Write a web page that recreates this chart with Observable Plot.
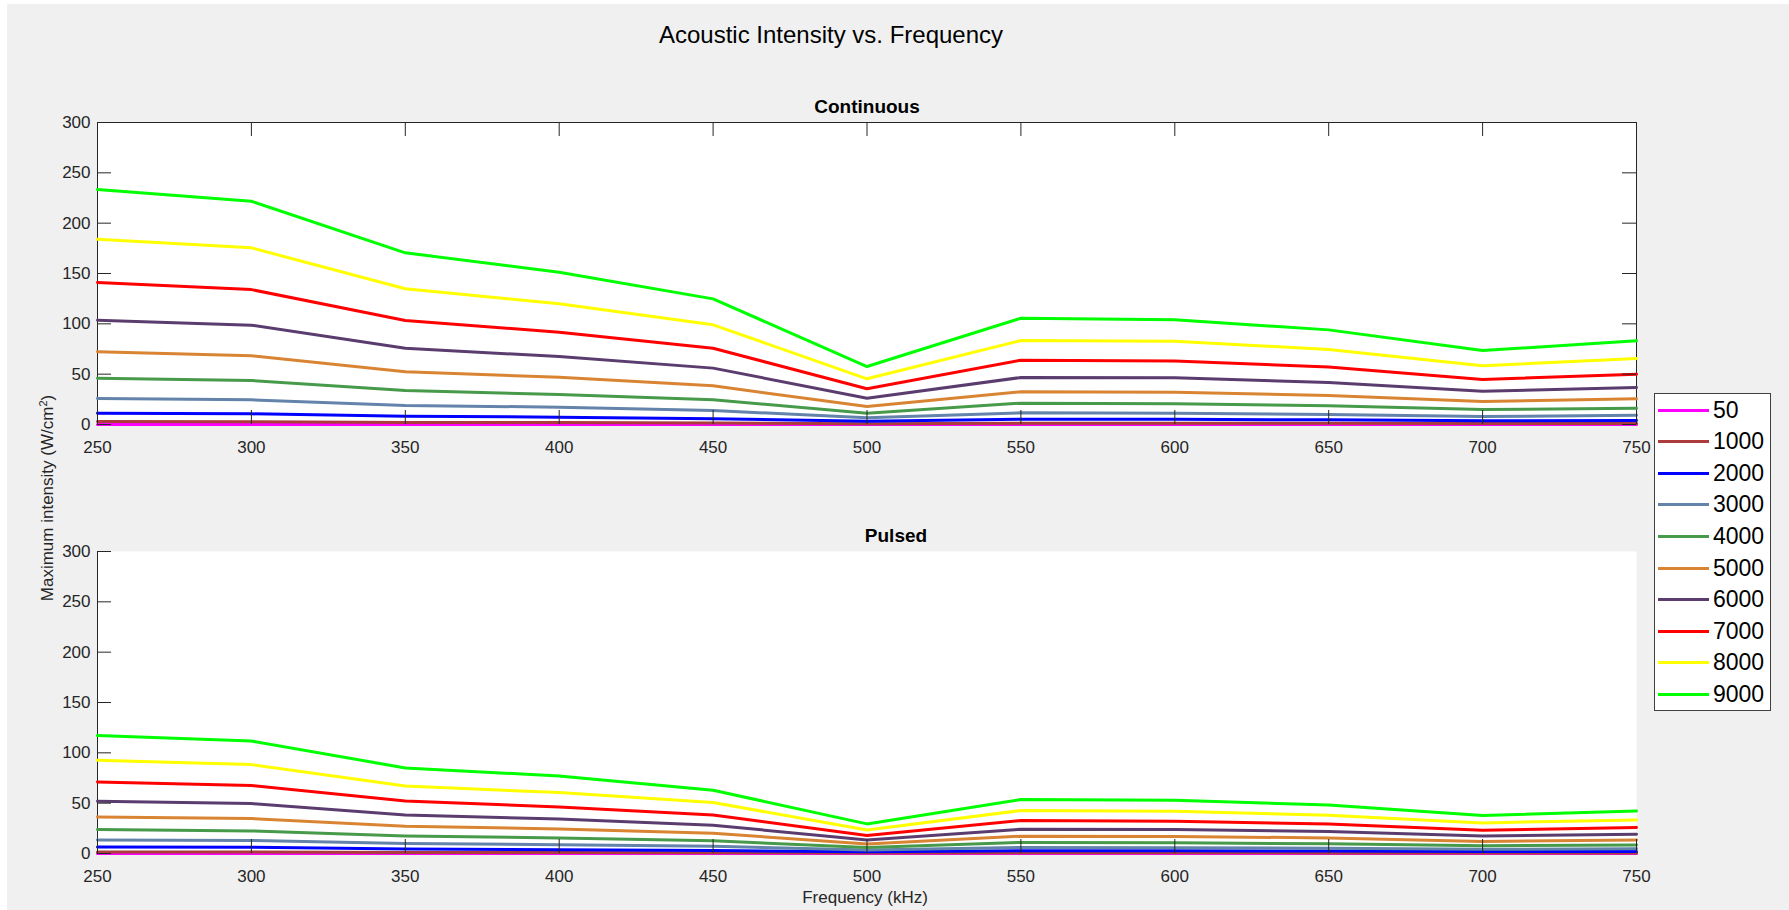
<!DOCTYPE html>
<html>
<head>
<meta charset="utf-8">
<script src="https://cdn.jsdelivr.net/npm/d3@7"></script>
<script src="https://cdn.jsdelivr.net/npm/@observablehq/plot@0.6"></script>
<style>
  html, body { margin: 0; padding: 0; background: #ffffff; }
  #root { position: relative; width: 1789px; height: 910px; overflow: hidden; background: #ffffff;
          font-family: Arial, "Liberation Sans", Helvetica, sans-serif; }
  #bg { position: absolute; left: 7px; top: 4px; right: 0; bottom: 0; background: #f0f0f0; }
  .abs { position: absolute; white-space: nowrap; }
  .center { transform: translate(-50%, -50%); }
  .panel { position: absolute; left: 0; }
  #legend { position: absolute; left: 1654px; top: 393px; width: 117px; height: 318px;
            background: #ffffff; border: 1px solid #404040; box-sizing: border-box; }
  .lg-row { position: absolute; left: 0; height: 30px; display: flex; align-items: center; transform: translateY(-50%); }
  .lg-swatch { width: 51px; height: 3px; margin-left: 3px; margin-right: 4px; }
  .lg-text { font-size: 23px; color: #000; line-height: 1; }
</style>
</head>
<body>
<div id="root">
  <div id="bg"></div>
</div>
<script>
// ---------------- data ----------------
const frequencies = [250, 300, 350, 400, 450, 500, 550, 600, 650, 700, 750];
const seriesNames = ["50", "1000", "2000", "3000", "4000", "5000", "6000", "7000", "8000", "9000"];
const seriesColors = ["#ff00ff", "#ac3c3c", "#0000ff", "#6383aa", "#469a4a", "#d98432", "#5a3d6e", "#ff0000", "#ffff00", "#00ff00"];
const xTicks = [250, 300, 350, 400, 450, 500, 550, 600, 650, 700, 750];
const yTicks = [0, 50, 100, 150, 200, 250, 300];

// Continuous (W/cm^2)
const cont50   = [0.007, 0.007, 0.005, 0.005, 0.004, 0.002, 0.003, 0.003, 0.003, 0.002, 0.003];
const cont1000 = [2.9, 2.7, 2.1, 1.9, 1.5, 0.7, 1.3, 1.3, 1.2, 0.9, 1.0];
const cont2000 = [11.2, 10.6, 8.3, 7.3, 5.7, 3.3, 5.3, 5.2, 4.6, 3.7, 4.0];
const cont3000 = [25.8, 24.5, 18.9, 17.2, 13.9, 6.6, 11.6, 11.3, 9.9, 7.9, 9.2];
const cont4000 = [46.0, 43.7, 33.8, 29.8, 24.5, 11.2, 21.2, 20.5, 18.6, 14.9, 16.2];
const cont5000 = [72.2, 68.2, 52.3, 47.0, 38.4, 17.9, 32.5, 32.1, 28.8, 22.8, 25.5];
const cont6000 = [103.6, 98.7, 75.8, 67.5, 56.0, 26.1, 46.7, 46.4, 41.7, 33.1, 36.8];
const cont7000 = [141.0, 134.0, 103.3, 91.7, 75.8, 35.5, 63.9, 63.2, 57.0, 44.7, 50.0];
const cont8000 = [184.0, 175.5, 134.8, 119.9, 99.0, 45.4, 83.4, 82.8, 74.5, 58.3, 65.6];
const cont9000 = [233.4, 221.8, 170.5, 151.3, 124.8, 57.6, 105.6, 104.0, 94.0, 73.5, 83.1];

// Pulsed (W/cm^2)
const puls50   = [0.004, 0.004, 0.003, 0.003, 0.002, 0.001, 0.002, 0.002, 0.002, 0.001, 0.002];
const puls1000 = [1.5, 1.4, 1.1, 1.0, 0.8, 0.4, 0.7, 0.7, 0.6, 0.5, 0.5];
const puls2000 = [6.5, 6.2, 4.5, 3.8, 3.0, 1.7, 2.7, 2.7, 2.4, 1.9, 2.1];
const puls3000 = [13.5, 12.9, 9.9, 8.8, 7.2, 3.4, 6.0, 5.8, 5.1, 4.1, 4.7];
const puls4000 = [23.8, 22.4, 17.5, 15.4, 12.6, 6.0, 11.0, 10.6, 9.6, 7.7, 8.4];
const puls5000 = [36.3, 34.7, 27.1, 24.4, 20.1, 9.5, 17.2, 16.9, 15.5, 12.0, 13.3];
const puls6000 = [51.9, 49.6, 38.3, 34.3, 28.1, 13.5, 24.1, 23.8, 21.8, 17.5, 19.1];
const puls7000 = [71.1, 67.5, 52.2, 46.2, 38.3, 17.9, 32.7, 32.0, 29.4, 23.1, 25.8];
const puls8000 = [92.6, 88.3, 67.1, 60.5, 50.6, 23.4, 42.7, 42.0, 38.0, 30.4, 33.3];
const puls9000 = [117.1, 111.7, 85.0, 77.0, 62.8, 29.4, 53.6, 52.9, 48.2, 37.7, 42.3];

const contSeries = [cont50, cont1000, cont2000, cont3000, cont4000, cont5000, cont6000, cont7000, cont8000, cont9000];
const pulsSeries = [puls50, puls1000, puls2000, puls3000, puls4000, puls5000, puls6000, puls7000, puls8000, puls9000];

function toRows(seriesList) {
  const rows = [];
  seriesList.forEach((vals, i) => {
    vals.forEach((v, j) => rows.push({series: seriesNames[i], freq: frequencies[j], value: v}));
  });
  return rows;
}

// ---------------- layout ----------------
const W = 1789;
const mLeft = 97, mRight = 153;
const axisColor = "#262626";
const tickLen = 14;

function panel({rows, top, height, mTop, mBottom, box}) {
  const plotH = height - mTop - mBottom;
  const plotW = W - mLeft - mRight;
  const marks = [Plot.frame({fill: "white", stroke: "none"})];
  if (box) {
    marks.push(Plot.frame({stroke: axisColor, strokeWidth: 1}));
  } else {
    marks.push(Plot.ruleX([xTicks[0]], {stroke: axisColor, strokeWidth: 1}));
    marks.push(Plot.ruleY([yTicks[0]], {stroke: axisColor, strokeWidth: 1}));
  }
  marks.push(Plot.line(rows, {x: "freq", y: "value", z: "series", stroke: "series", strokeWidth: 3}));
  // inward ticks (MATLAB style)
  marks.push(Plot.tickX(xTicks, {x: d => d, insetTop: plotH - tickLen, stroke: axisColor}));
  marks.push(Plot.tickY(yTicks, {y: d => d, insetRight: plotW - tickLen, stroke: axisColor}));
  if (box) {
    marks.push(Plot.tickX(xTicks, {x: d => d, insetBottom: plotH - tickLen, stroke: axisColor}));
    marks.push(Plot.tickY(yTicks, {y: d => d, insetLeft: plotW - tickLen, stroke: axisColor}));
  }
  marks.push(Plot.axisX(xTicks, {anchor: "bottom", tickSize: 0, tickPadding: 16, label: null}));
  marks.push(Plot.axisY(yTicks, {anchor: "left", tickSize: 0, tickPadding: 7, label: null}));

  const svg = Plot.plot({
    width: W,
    height,
    marginLeft: mLeft,
    marginRight: mRight,
    marginTop: mTop,
    marginBottom: mBottom,
    x: {domain: [xTicks[0], xTicks[xTicks.length - 1]], label: null},
    y: {domain: [yTicks[0], yTicks[yTicks.length - 1]], label: null},
    color: {domain: seriesNames, range: seriesColors},
    style: {background: "transparent", color: axisColor, fontSize: "17px",
            fontFamily: 'Arial, "Liberation Sans", Helvetica, sans-serif', overflow: "visible"},
    marks
  });
  svg.classList.add("panel");
  svg.style.top = top + "px";
  return svg;
}

const root = document.getElementById("root");

// top panel: plot area y 122..424
root.appendChild(panel({rows: toRows(contSeries), top: 100, height: 360, mTop: 22, mBottom: 36, box: true}));
// bottom panel: plot area y 551..853
root.appendChild(panel({rows: toRows(pulsSeries), top: 530, height: 360, mTop: 21, mBottom: 37, box: false}));

// ---------------- texts ----------------
function addText(html, x, y, style) {
  const d = document.createElement("div");
  d.className = "abs center";
  d.style.left = x + "px";
  d.style.top = y + "px";
  Object.assign(d.style, style || {});
  d.innerHTML = html;
  root.appendChild(d);
  return d;
}
addText("Acoustic Intensity vs. Frequency", 831, 35, {fontSize: "24px", color: "#000"});
addText("Continuous", 867, 107, {fontSize: "19px", fontWeight: "bold", color: "#000"});
addText("Pulsed", 896, 536, {fontSize: "19px", fontWeight: "bold", color: "#000"});
addText("Frequency (kHz)", 865, 898, {fontSize: "17px", color: axisColor});
const yl = addText('Maximum intensity (W/cm<sup style="font-size:11px;vertical-align:6px;line-height:0">2</sup>)', 48, 498,
  {fontSize: "17px", color: axisColor});
yl.style.transform = "translate(-50%, -50%) rotate(-90deg)";

// ---------------- legend ----------------
const legend = document.createElement("div");
legend.id = "legend";
root.appendChild(legend);
seriesNames.forEach((name, i) => {
  const row = document.createElement("div");
  row.className = "lg-row";
  row.style.top = (16 + i * 31.6) + "px";
  const sw = document.createElement("div");
  sw.className = "lg-swatch";
  sw.style.background = seriesColors[i];
  const tx = document.createElement("span");
  tx.className = "lg-text";
  tx.textContent = name;
  row.appendChild(sw);
  row.appendChild(tx);
  legend.appendChild(row);
});
</script>
</body>
</html>
